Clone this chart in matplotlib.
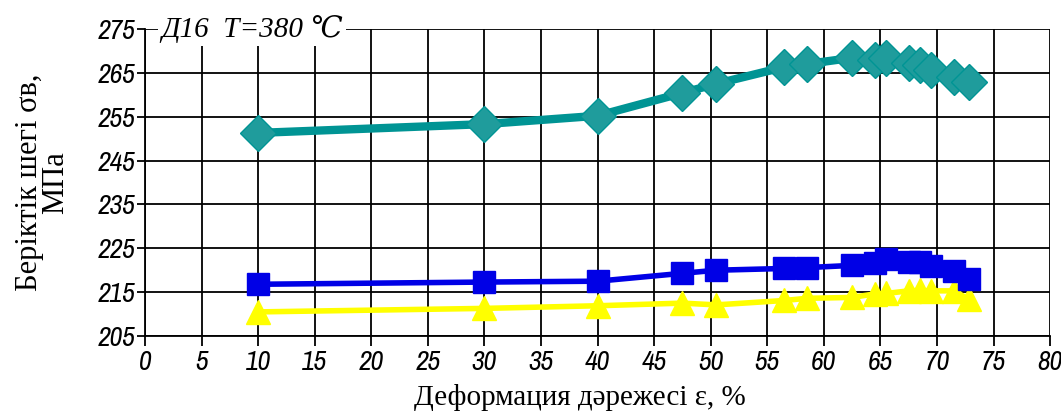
import matplotlib
matplotlib.use("Agg")
import matplotlib.pyplot as plt
from matplotlib import font_manager

# деформация, %
eps = [10, 30, 40, 47.5, 50.5, 56.5, 58.5, 62.5, 64.5, 65.5, 67.5, 68.5, 69.5, 71.5, 72.8]
# прочность, МПа
teal_vals = [251.3, 253.3, 255.2, 260.4, 262.5, 266.3, 267.0, 268.4, 267.9, 268.3, 267.2, 266.8, 265.7, 264.0, 262.9]
blue_vals = [216.8, 217.3, 217.5, 219.3, 220.0, 220.4, 220.6, 221.1, 221.6, 222.5, 221.9, 221.8, 221.0, 219.9, 217.9]
yellow_vals = [210.5, 211.3, 211.9, 212.5, 212.1, 213.1, 213.6, 213.8, 214.6, 214.7, 215.3, 215.4, 215.3, 215.3, 213.4]

xticks = list(range(0, 81, 5))
yticks = list(range(205, 276, 10))

# узкий шрифт для подписей делений, если есть
narrow = [f.name for f in font_manager.fontManager.ttflist
          if "Narrow" in f.name or "Condensed" in f.name]
tick_family = [narrow[0], "DejaVu Sans"] if narrow else ["DejaVu Sans"]
serif = ["Liberation Serif", "DejaVu Serif"]

fig = plt.figure(figsize=(10.61, 4.19), dpi=100)
ax = fig.add_axes([0.1367, 0.198, 0.853, 0.733])

ax.plot(eps, teal_vals, color="#009494", lw=6, marker="D", ms=18,
        mfc="#1f9c9c", mec="#009494", zorder=3)
ax.plot(eps, blue_vals, color="#0000e6", lw=4, marker="s", ms=16, zorder=4)
ax.plot(eps, yellow_vals, color="#ffff00", lw=4, marker="^", ms=17, zorder=3)

ax.set_xlim(0, 80)
ax.set_ylim(205, 275)
ax.set_xticks(xticks)
ax.set_yticks(yticks)
ax.grid(True, color="black", lw=1.3)
ax.set_axisbelow(True)
for s in ax.spines.values():
    s.set_linewidth(1.3)
ax.spines["top"].set_visible(False)
ax.spines["right"].set_visible(False)
ax.tick_params(axis="x", direction="out", length=7, width=1.3, pad=3)
ax.tick_params(axis="y", direction="out", length=6, width=1.3, pad=1)
for lab in ax.get_xticklabels() + ax.get_yticklabels():
    lab.set_family(tick_family)
    lab.set_style("italic")
    lab.set_stretch("condensed")
    lab.set_fontsize(20)

ax.text(0.018, 1.0, "Д16  T=380 ℃", transform=ax.transAxes, family=serif,
        style="italic", fontsize=21, va="center", ha="left",
        bbox=dict(facecolor="white", edgecolor="none", pad=2), zorder=5)

ax.set_xlabel("Деформация дәрежесі ε, %", family=serif, fontsize=21, labelpad=5)
ax.xaxis.set_label_coords(0.48, -0.155)
ax.set_ylabel("Беріктік шегі σв,\nМПа", family=serif, fontsize=22, labelpad=20,
              linespacing=0.85)

fig.savefig("out.png", dpi=100)
